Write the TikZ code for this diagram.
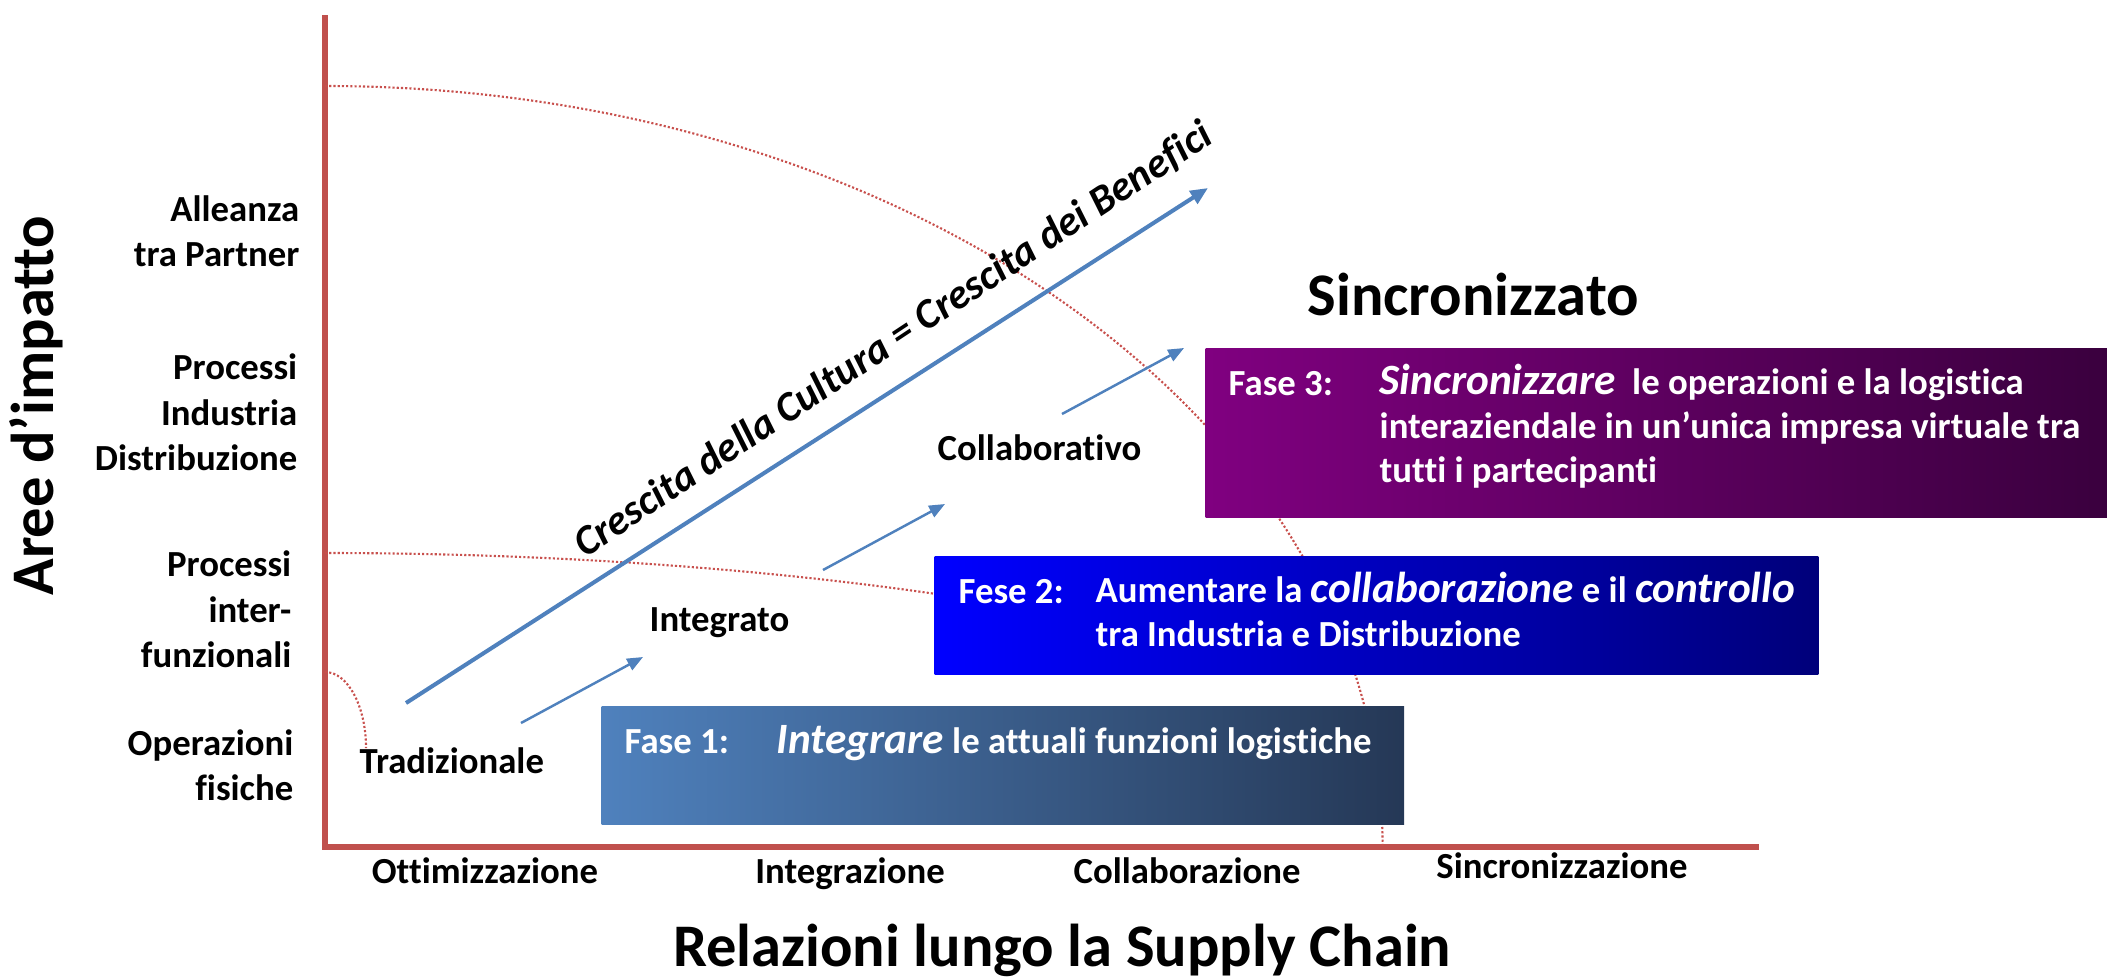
\documentclass[tikz,border=0pt]{standalone}
\usepackage{fontspec}
\setmainfont{Carlito}[Ligatures=NoCommon]
\usetikzlibrary{arrows.meta}
\definecolor{axisred}{HTML}{C0504D}
\definecolor{dotred}{HTML}{C8504D}
\definecolor{arrowblue}{HTML}{4F81BD}
\definecolor{p3left}{RGB}{128,0,128}
\definecolor{p3right}{RGB}{58,0,62}
\definecolor{p2left}{RGB}{0,0,255}
\definecolor{p2right}{RGB}{0,0,122}
\definecolor{p1left}{RGB}{79,129,189}
\definecolor{p1right}{RGB}{37,56,86}
\newcommand{\bigit}[1]{{\fontsize{12.3}{12.4}\selectfont\itshape #1}}
\begin{document}
\begin{tikzpicture}[x=0.01cm,y=-0.01cm,
  lbl/.style={font=\fontsize{10.45}{12.8}\selectfont\bfseries, inner sep=0pt},
  leftlbl/.style={lbl, align=right, anchor=base east},
  ticklbl/.style={lbl, anchor=base},
  boxtxt/.style={text=white, font=\fontsize{10.45}{12.4}\selectfont\bfseries, inner sep=0pt, align=left, anchor=base west},
  titletxt/.style={font=\fontsize{17.2}{20}\selectfont\bfseries, inner sep=0pt},
  dotarc/.style={dotred, line width=0.6pt, dash pattern=on 0.6pt off 0.6pt},
  growarrow/.style={arrowblue, line width=1.15pt, -{Triangle[length=5pt,width=4.2pt]}},
  steparrow/.style={arrowblue, line width=0.7pt, -{Triangle[length=4.5pt,width=3.6pt]}},
  phasebox/.style={draw=none, inner sep=0pt, anchor=north west}]
\useasboundingbox (0,0) rectangle (2107,978);

% axes
\coordinate (ytop) at (325,15);
\coordinate (origin) at (325,847);
\coordinate (xend) at (1759,847);
\draw[axisred, line width=1.7pt] (ytop) -- (origin) -- (xend);

% dotted arcs
\coordinate (arcA) at (325,86);
\coordinate (arcB) at (325,553);
\coordinate (arcC) at (325,672);
\draw[dotarc] (arcA) arc[start angle=90, end angle=0, x radius=10.57cm, y radius=7.61cm];
\draw[dotarc] (arcB) arc[start angle=90, end angle=59.5, x radius=12cm, y radius=2.94cm];
\draw[dotarc] (arcC) arc[start angle=90, end angle=0, x radius=0.41cm, y radius=0.76cm];

% phase boxes
\node[phasebox, minimum width=9.02cm, minimum height=1.69cm, left color=p3left, right color=p3right] (box3) at (1205,348) {};
\node[phasebox, minimum width=8.83cm, minimum height=1.18cm, left color=p2left, right color=p2right] (box2) at (934,556) {};
\node[phasebox, minimum width=8.02cm, minimum height=1.18cm, left color=p1left, right color=p1right] (box1) at (601,706) {};

% box texts (multi-line nodes: base = last line)
\node[boxtxt] (f3lab) at (1228,395) {Fase 3:};
\node[boxtxt] (f3txt) at (1379,482) {\bigit{Sincronizzare}\ \ le operazioni e la logistica\\interaziendale in un’unica impresa virtuale tra\\tutti i partecipanti};
\node[boxtxt] (f2lab) at (958,603) {Fese 2:};
\node[boxtxt] (f2txt) at (1095,646) {Aumentare la \bigit{collaborazione} e il \bigit{controllo}\\tra Industria e Distribuzione};
\node[boxtxt] (f1lab) at (624,753) {Fase 1:};
\node[boxtxt] (f1txt) at (776,753) {\bigit{Integrare} le attuali funzioni logistiche};

% left labels (base = last line)
\node[leftlbl] (l4) at (300,266) {Alleanza\\tra Partner};
\node[leftlbl] (l3) at (298,470) {Processi\\Industria\\Distribuzione};
\node[leftlbl] (l2) at (292,667) {Processi\\inter-\\funzionali};
\node[leftlbl] (l1) at (294,800) {Operazioni\\fisiche};

% bottom labels
\node[ticklbl] (t1) at (485,883) {Ottimizzazione};
\node[ticklbl] (t2) at (850,883) {Integrazione};
\node[ticklbl] (t3) at (1187,883) {Collaborazione};
\node[ticklbl] (t4) at (1562,878) {Sincronizzazione};

% axis titles
\node[titletxt, rotate=90, anchor=base] (ytitle) at (54,406) {Aree d’impatto};
\node[titletxt, anchor=base] (xtitle) at (1062,966) {Relazioni lungo la Supply Chain};
\node[titletxt, anchor=base west] (sinc) at (1307,315) {Sincronizzato};

% stage labels
\node[lbl, anchor=base west] (trad) at (359,773) {Tradizionale};
\node[lbl, anchor=base west] (integ) at (649,631) {Integrato};
\node[lbl, anchor=base west] (collab) at (937,460) {Collaborativo};

% growth arrow and text
\coordinate (g0) at (406,703);
\coordinate (g1) at (1208,188);
\draw[growarrow] (g0) -- (g1);
\node[font=\fontsize{11.9}{14}\selectfont\bfseries\itshape, inner sep=0pt, rotate=33.5, anchor=base] (growtxt) at (900,350) {Crescita della Cultura = Crescita dei Benefici};

% step arrows
\coordinate (s1a) at (521,723);
\coordinate (s1b) at (643,657);
\coordinate (s2a) at (823,570);
\coordinate (s2b) at (945,504);
\coordinate (s3a) at (1062,414);
\coordinate (s3b) at (1184,348);
\draw[steparrow] (s1a) -- (s1b);
\draw[steparrow] (s2a) -- (s2b);
\draw[steparrow] (s3a) -- (s3b);
\end{tikzpicture}
\end{document}
